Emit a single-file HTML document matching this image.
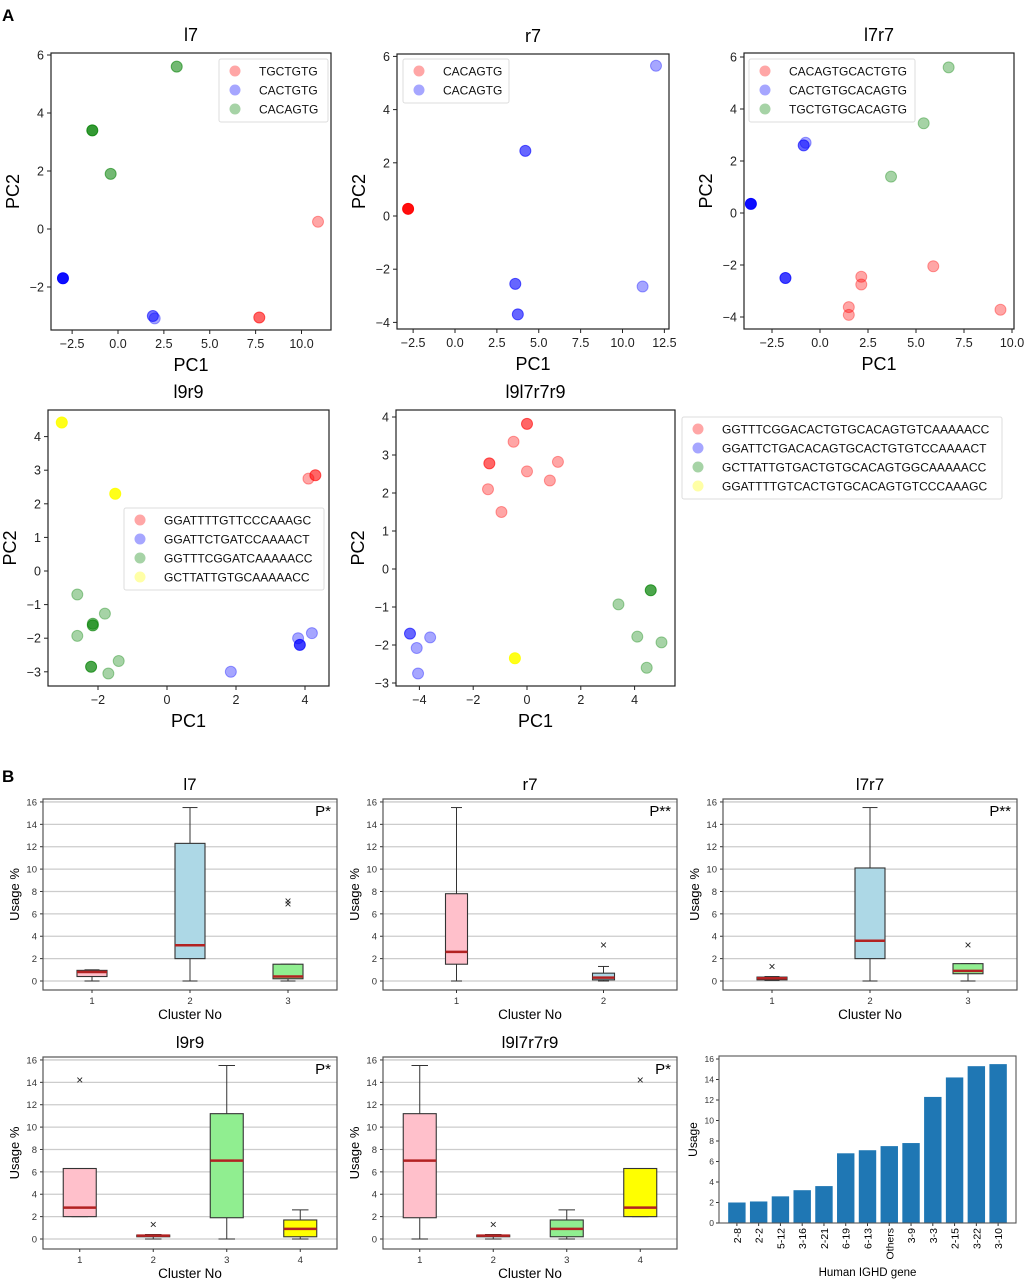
<!DOCTYPE html>
<html><head><meta charset="utf-8"><style>
body{margin:0;background:#fff;}
svg{display:block;font-family:"Liberation Sans","DejaVu Sans",sans-serif;}
</style></head><body>
<svg id="fig" width="1025" height="1280" viewBox="0 0 1025 1280" xmlns="http://www.w3.org/2000/svg">
<text x="2" y="21" font-size="17" font-weight="bold">A</text>
<text x="2" y="782" font-size="17" font-weight="bold">B</text>
</svg>
<script>
// ---------- Scatter data (PC1, PC2, opacity) ----------
const l7Red=[[10.9,0.25,0.35],[7.7,-3.05,0.6]];
const l7Blue=[[-3,-1.7,0.95],[1.9,-3.0,0.55],[2.0,-3.08,0.35]];
const l7Green=[[-1.4,3.4,0.8],[-0.4,1.9,0.55],[3.2,5.6,0.55]];
const r7Red=[[-2.8,0.27,0.95]];
const r7Blue=[[12,5.65,0.35],[4.2,2.45,0.6],[3.6,-2.55,0.6],[3.75,-3.7,0.6],[11.2,-2.65,0.35]];
const l7r7Red=[[5.9,-2.05,0.35],[2.15,-2.45,0.35],[2.15,-2.75,0.35],[1.5,-3.62,0.35],[1.5,-3.92,0.35],[9.4,-3.72,0.35]];
const l7r7Blue=[[-3.6,0.35,0.95],[-1.8,-2.5,0.75],[-0.85,2.6,0.6],[-0.75,2.7,0.35]];
const l7r7Green=[[6.7,5.6,0.35],[5.4,3.45,0.35],[3.7,1.4,0.35]];
const l9r9Red=[[4.1,2.75,0.35],[4.3,2.85,0.6]];
const l9r9Blue=[[4.2,-1.85,0.35],[3.8,-2.0,0.35],[3.85,-2.2,0.75],[1.85,-3.0,0.35]];
const l9r9Green=[[-2.6,-0.7,0.35],[-1.8,-1.27,0.35],[-2.15,-1.57,0.5],[-2.15,-1.62,0.6],[-2.6,-1.93,0.35],[-1.4,-2.68,0.35],[-1.7,-3.05,0.35],[-2.2,-2.85,0.7]];
const l9r9Yellow=[[-3.05,4.42,0.9],[-1.5,2.3,0.9]];
const allRed=[[0,3.82,0.6],[-0.5,3.35,0.35],[-1.4,2.78,0.6],[1.15,2.82,0.35],[0,2.57,0.35],[0.85,2.33,0.35],[-1.45,2.1,0.35],[-0.95,1.5,0.35]];
const allBlue=[[-4.35,-1.7,0.6],[-3.6,-1.8,0.35],[-4.1,-2.08,0.35],[-4.05,-2.75,0.35]];
const allGreen=[[4.6,-0.56,0.7],[3.4,-0.93,0.35],[4.1,-1.78,0.35],[5.0,-1.93,0.35],[4.45,-2.6,0.35]];
const allYellow=[[-0.45,-2.35,0.9]];
const l7Ticks=[-2.5,0,2.5,5,7.5,10], r7Ticks=[-2.5,0,2.5,5,7.5,10,12.5], l7r7Ticks=[-2.5,0,2.5,5,7.5,10];
const yTicks6=[-2,0,2,4,6], yTicks6b=[-4,-2,0,2,4,6], int4=[-2,0,2,4], int5=[-4,-2,0,2,4], yInt=[-3,-2,-1,0,1,2,3,4];

// ---------- Box data: [q1,q3,wlo,whi,median,color,outliers] ----------
const bxL7=[[0.4,0.95,0,1,0.8,'#ffc0cb',[]],[2,12.3,0,15.5,3.2,'#add8e6',[]],[0.2,1.5,0,1.5,0.4,'#90ee90',[6.9,7.15]]];
const bxR7=[[1.5,7.8,0,15.5,2.6,'#ffc0cb',[]],[0.1,0.7,0,1.3,0.3,'#add8e6',[3.2]]];
const bxL7R7=[[0.1,0.35,0.05,0.4,0.25,'#ffc0cb',[1.3]],[2,10.1,0,15.5,3.6,'#add8e6',[]],[0.65,1.55,0,1.55,0.9,'#90ee90',[3.2]]];
const bxL9R9=[[2,6.3,2,6.3,2.8,'#ffc0cb',[14.2]],[0.2,0.35,0,0.4,0.3,'#add8e6',[1.3]],[1.9,11.2,0,15.5,7,'#90ee90',[]],[0.2,1.7,0,2.6,0.9,'#ffff00',[]]];
const bxAll=[[1.9,11.2,0,15.5,7,'#ffc0cb',[]],[0.2,0.35,0,0.4,0.3,'#add8e6',[1.3]],[0.2,1.7,0,2.6,0.9,'#90ee90',[]],[2,6.3,2,6.3,2.8,'#ffff00',[14.2]]];
const boxYTicks=[0,2,4,6,8,10,12,14,16];

// ---------- Bar data ----------
const genes=['2-8','2-2','5-12','3-16','2-21','6-19','6-13','Others','3-9','3-3','2-15','3-22','3-10'];
const usage=[2.0,2.1,2.6,3.2,3.6,6.8,7.1,7.5,7.8,12.3,14.2,15.3,15.5];

const svg=document.getElementById('fig');
const NS='http://www.w3.org/2000/svg';
function el(t,a,p){const e=document.createElementNS(NS,t);for(const k in a)e.setAttribute(k,a[k]);(p||svg).appendChild(e);return e;}
function txt(s,a,p){const e=el('text',a,p);e.textContent=s;return e;}
const fmt=v=>(v<0?'\u2212':'')+Math.abs(v);
const fmt1=v=>(v<0?'\u2212':'')+Math.abs(v).toFixed(1);

function scatter(o){
  const g=el('g',{});
  
  
  const X=v=>o.x0+v*o.sx, Y=v=>o.y0-v*o.sy;
  el('rect',{x:o.L,y:o.T,width:o.R-o.L,height:o.B-o.T,fill:'none',stroke:'#222','stroke-width':1.2},g);
  const tt=txt(o.title,{x:(o.L+o.R)/2,y:o.T-12,'font-size':18,'text-anchor':'middle'},g);
  
  
  o.xt.forEach(v=>{el('line',{x1:X(v),x2:X(v),y1:o.B,y2:o.B+4,stroke:'#222'},g);txt(o.dec?fmt1(v):fmt(v),{x:X(v),y:o.B+18,'font-size':12.5,'text-anchor':'middle',fill:'#222'},g);});
  o.yt.forEach(v=>{el('line',{x1:o.L-4,x2:o.L,y1:Y(v),y2:Y(v),stroke:'#222'},g);txt(fmt(v),{x:o.L-7,y:Y(v)+4.5,'font-size':12.5,'text-anchor':'end',fill:'#222'},g);});
  const xl=txt('PC1',{x:(o.L+o.R)/2,y:o.B+41,'font-size':18,'text-anchor':'middle'},g);
  
  
  const yl=txt('PC2',{x:0,y:0,'font-size':18,'text-anchor':'middle',transform:`translate(${o.L-32},${(o.T+o.B)/2}) rotate(-90)`},g);
  
  
  o.series.forEach(([pts,col])=>pts.forEach(p=>{
    const c=el('circle',{cx:X(p[0]),cy:Y(p[1]),r:5.5,fill:col,'fill-opacity':p[2],stroke:col,'stroke-opacity':p[2]},g);
    
    
  }));
  const lg=o.leg;
  const lb=el('rect',{x:lg.x,y:lg.y,width:lg.w,height:lg.labels.length*19+6,fill:'#fff','fill-opacity':0.85,stroke:'#ddd',rx:2},g);
  
  
  lg.labels.forEach((s,i)=>{
    const cy=lg.y+12+i*19;
    el('circle',{cx:lg.x+16,cy:cy,r:5.5,fill:o.series[i][1],'fill-opacity':0.35},g);
    const t=txt(s,{x:lg.x+lg.tx,y:cy+4.5,'font-size':12,fill:'#111'},g);
    
    
  });
}
const R='#ff0000',Bl='#0000ff',G='#008000',Yc='#ffff00';
scatter({name:'scatter-l7',title:'l7',L:51,R:331,T:53,B:330,x0:118,sx:18.35,y0:229,sy:29,xt:l7Ticks,yt:yTicks6,dec:true,
 series:[[l7Red,R],[l7Blue,Bl],[l7Green,G]],leg:{x:219,y:59,w:109,tx:40,labels:['TGCTGTG','CACTGTG','CACAGTG']}});
scatter({name:'scatter-r7',title:'r7',L:397,R:669,T:54,B:329,x0:455,sx:16.75,y0:216,sy:26.6,xt:r7Ticks,yt:yTicks6b,dec:true,
 series:[[r7Red,R],[r7Blue,Bl]],leg:{x:403,y:59,w:106,tx:40,labels:['CACAGTG','CACAGTG']}});
scatter({name:'scatter-l7r7',title:'l7r7',L:744,R:1014,T:53,B:329,x0:820,sx:19.2,y0:213,sy:26,xt:l7r7Ticks,yt:yTicks6b,dec:true,
 series:[[l7r7Red,R],[l7r7Blue,Bl],[l7r7Green,G]],leg:{x:749,y:59,w:166,tx:40,labels:['CACAGTGCACTGTG','CACTGTGCACAGTG','TGCTGTGCACAGTG']}});
scatter({name:'scatter-l9r9',title:'l9r9',L:48,R:329,T:410,B:686,x0:167,sx:34.5,y0:571,sy:33.6,xt:int4,yt:yInt,dec:false,
 series:[[l9r9Red,R],[l9r9Blue,Bl],[l9r9Green,G],[l9r9Yellow,Yc]],leg:{x:124,y:508,w:200,tx:40,labels:['GGATTTTGTTCCCAAAGC','GGATTCTGATCCAAAACT','GGTTTCGGATCAAAAACC','GCTTATTGTGCAAAAACC']}});
scatter({name:'scatter-l9l7r7r9',title:'l9l7r7r9',L:396,R:675,T:410,B:686,x0:527,sx:26.9,y0:569,sy:38,xt:int5,yt:yInt,dec:false,
 series:[[allRed,R],[allBlue,Bl],[allGreen,G],[allYellow,Yc]],leg:{x:682,y:417,w:320,tx:40,labels:['GGTTTCGGACACTGTGCACAGTGTCAAAAACC','GGATTCTGACACAGTGCACTGTGTCCAAAACT','GCTTATTGTGACTGTGCACAGTGGCAAAAACC','GGATTTTGTCACTGTGCACAGTGTCCCAAAGC']}});

function boxplot(o){
  const g=el('g',{});
  
  
  const Y=v=>o.y0-v*o.sy;
  boxYTicks.forEach(v=>{el('line',{x1:o.L,x2:o.R,y1:Y(v),y2:Y(v),stroke:'#ccc','stroke-width':1.3},g);
    el('line',{x1:o.L-3,x2:o.L,y1:Y(v),y2:Y(v),stroke:'#333'},g);
    txt(String(v),{x:o.L-6,y:Y(v)+3.5,'font-size':9.5,'text-anchor':'end',fill:'#333'},g);});
  el('rect',{x:o.L,y:o.T,width:o.R-o.L,height:o.B-o.T,fill:'none',stroke:'#555','stroke-width':1.2},g);
  const tt=txt(o.title,{x:(o.L+o.R)/2,y:o.T-9,'font-size':17,'text-anchor':'middle'},g);
  
  
  txt(o.p,{x:o.R-6,y:o.T+17,'font-size':15,'text-anchor':'end'},g);
  const yl=txt('Usage %',{x:0,y:0,'font-size':13,'text-anchor':'middle',transform:`translate(${o.L-24},${(o.T+o.B)/2}) rotate(-90)`},g);
  
  
  const xl=txt('Cluster No',{x:(o.L+o.R)/2,y:o.B+29,'font-size':13.5,'text-anchor':'middle'},g);
  
  
  const n=o.data.length, step=(o.R-o.L)/n, w=o.bw;
  o.data.forEach((d,i)=>{
    const cx=o.L+step*(i+0.5);
    el('line',{x1:cx,x2:cx,y1:o.B,y2:o.B+3,stroke:'#333'},g);
    txt(String(i+1),{x:cx,y:o.B+14,'font-size':9.5,'text-anchor':'middle',fill:'#333'},g);
    el('line',{x1:cx,x2:cx,y1:Y(d[3]),y2:Y(d[1]),stroke:'#333'},g);
    el('line',{x1:cx,x2:cx,y1:Y(d[0]),y2:Y(d[2]),stroke:'#333'},g);
    el('line',{x1:cx-w/4,x2:cx+w/4,y1:Y(d[3]),y2:Y(d[3]),stroke:'#333'},g);
    el('line',{x1:cx-w/4,x2:cx+w/4,y1:Y(d[2]),y2:Y(d[2]),stroke:'#333'},g);
    const b=el('rect',{x:cx-w/2,y:Y(d[1]),width:w,height:Math.max(1,Y(d[0])-Y(d[1])),fill:d[5],stroke:'#333','stroke-width':1.1},g);
    
    
    el('line',{x1:cx-w/2,x2:cx+w/2,y1:Y(d[4]),y2:Y(d[4]),stroke:'#b22222','stroke-width':2.5},g);
    d[6].forEach(v=>{txt('\u00d7',{x:cx,y:Y(v)+4,'font-size':12,'text-anchor':'middle',fill:'#222'},g);});
  });
}
boxplot({name:'box-l7',title:'l7',p:'P*',L:43,R:337,T:799,B:990,y0:981,sy:11.19,bw:30,data:bxL7});
boxplot({name:'box-r7',title:'r7',p:'P**',L:383,R:677,T:799,B:990,y0:981,sy:11.19,bw:22,data:bxR7});
boxplot({name:'box-l7r7',title:'l7r7',p:'P**',L:723,R:1017,T:799,B:990,y0:981,sy:11.19,bw:30,data:bxL7R7});
boxplot({name:'box-l9r9',title:'l9r9',p:'P*',L:43,R:337,T:1057,B:1249,y0:1239,sy:11.19,bw:33,data:bxL9R9});
boxplot({name:'box-l9l7r7r9',title:'l9l7r7r9',p:'P*',L:383,R:677,T:1057,B:1249,y0:1239,sy:11.19,bw:33,data:bxAll});

(function(){
  const g=el('g',{});
  
  
  const L=719,Rr=1016,T=1056,B=1223,y0=1223,sy=10.25;
  const Y=v=>y0-v*sy;
  const step=(Rr-L-14)/genes.length;
  [0,2,4,6,8,10,12,14,16].forEach(v=>{el('line',{x1:L-3,x2:L,y1:Y(v),y2:Y(v),stroke:'#333'},g);
    txt(String(v),{x:L-5,y:Y(v)+3,'font-size':8.5,'text-anchor':'end',fill:'#333'},g);});
  genes.forEach((s,i)=>{
    const cx=L+7+step*(i+0.5);
    const b=el('rect',{x:cx-step*0.4,y:Y(usage[i]),width:step*0.8,height:y0-Y(usage[i]),fill:'#1f77b4'},g);
    
    
    el('line',{x1:cx,x2:cx,y1:B,y2:B+3,stroke:'#333'},g);
    txt(s,{x:0,y:0,'font-size':10.5,'text-anchor':'end',transform:`translate(${cx+4},${B+5}) rotate(-90)`},g);
  });
  el('rect',{x:L,y:T,width:Rr-L,height:B-T,fill:'none',stroke:'#555','stroke-width':1.1},g);
  const yl=txt('Usage',{x:0,y:0,'font-size':12,'text-anchor':'middle',transform:`translate(${L-22},${(T+B)/2}) rotate(-90)`},g);
  
  
  const xl=txt('Human IGHD gene',{x:(L+Rr)/2,y:1276,'font-size':11.5,'text-anchor':'middle'},g);
  
  
})();
</script>
</body></html>
